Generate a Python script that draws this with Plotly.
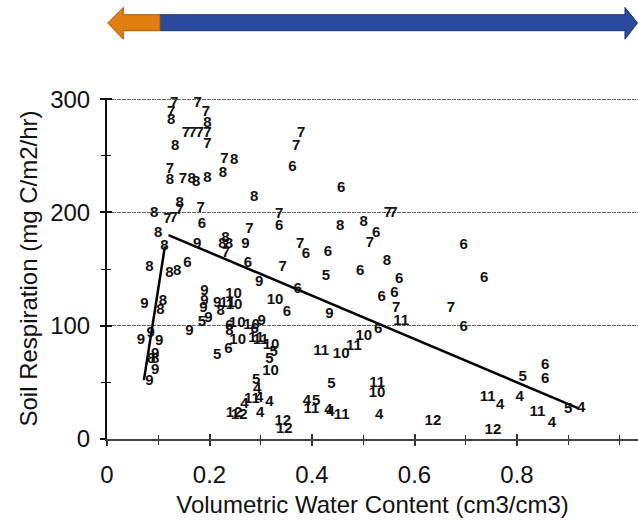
import plotly.graph_objects as go

# Month labels of each observation, with volumetric water content (x) and soil respiration (y)
labels = [
    "7", "7", "8", "7", "7",
    "7", "7", "7", "7", "8",
    "8", "7", "7", "8", "8", "6", "7", "7",
    "7", "8", "7", "8", "8", "8", "8",
    "8", "8", "7", "7", "7",
    "7", "6", "7", "6", "8", "7", "9", "9",
    "8", "8", "8", "7", "8", "6", "7",
    "8", "8", "8", "6",
    "6", "7", "7", "8", "8", "6", "7", "7", "6", "6", "6", "8", "6",
    "5", "6", "6", "6", "6", "7", "7", "9", "6", "6", "11", "6", "10",
    "11", "10", "11", "5", "11", "10", "4", "5", "11", "4", "4", "11", "4", "12",
    "6", "6", "5", "4", "11", "4", "11", "4", "5", "4", "12",
    "9", "8", "8", "9", "9", "9", "8", "8", "9", "9", "9",
    "9", "5", "9", "9", "9", "9", "9", "8", "11", "10", "10",
    "10", "6", "9", "10", "10", "6", "9", "6", "8", "6", "10", "5",
    "11", "11", "10", "5", "5", "10", "5",
    "4", "4", "4", "4", "4", "11", "12", "12", "12", "12",
]
vwc = [
    0.131, 0.125, 0.125, 0.177, 0.193,
    0.154, 0.167, 0.181, 0.196, 0.196,
    0.133, 0.196, 0.229, 0.248, 0.226, 0.362, 0.369, 0.379,
    0.123, 0.123, 0.148, 0.165, 0.174, 0.196, 0.287,
    0.092, 0.142, 0.142, 0.118, 0.130,
    0.183, 0.185, 0.336, 0.336, 0.100, 0.278, 0.270, 0.176,
    0.231, 0.225, 0.238, 0.232, 0.112, 0.275, 0.343,
    0.083, 0.122, 0.137, 0.157,
    0.457, 0.548, 0.559, 0.455, 0.501, 0.525, 0.513, 0.377, 0.388, 0.431, 0.696, 0.546, 0.494,
    0.427, 0.570, 0.736, 0.536, 0.561, 0.564, 0.671, 0.434, 0.372, 0.529, 0.574, 0.696, 0.501,
    0.482, 0.457, 0.418, 0.438, 0.527, 0.527, 0.390, 0.408, 0.399, 0.432, 0.436, 0.458, 0.531, 0.636,
    0.855, 0.855, 0.811, 0.805, 0.743, 0.767, 0.840, 0.868, 0.900, 0.925, 0.753,
    0.073, 0.109, 0.104, 0.085, 0.066, 0.102, 0.086, 0.094, 0.094, 0.094, 0.083,
    0.161, 0.185, 0.198, 0.190, 0.190, 0.188, 0.215, 0.222, 0.235, 0.247, 0.248,
    0.328, 0.351, 0.297, 0.254, 0.282, 0.288, 0.302, 0.239, 0.239, 0.237, 0.255, 0.215,
    0.291, 0.300, 0.320, 0.325, 0.317, 0.319, 0.291,
    0.293, 0.297, 0.268, 0.317, 0.299, 0.283, 0.248, 0.258, 0.343, 0.346,
]
resp = [
    296, 288, 281, 296, 288,
    270, 270, 270, 270, 279,
    258, 260, 247, 246, 235, 240, 258, 270,
    238, 228, 229.5, 229, 227, 230, 213.6,
    199, 207.7, 202, 194, 195,
    204, 190, 198, 188, 182, 185, 171.5, 171.5,
    177, 172, 172, 164, 170, 155, 152,
    152, 146.5, 148.5, 155,
    221, 199, 199.5, 188, 191, 182, 173, 172, 163.5, 165, 170.6, 157, 148,
    144, 141, 142, 125, 129, 115.6, 115.6, 110, 132, 97, 104, 99, 91,
    82, 74.4, 77.3, 48, 49.4, 40.6, 33, 33, 26.5, 25, 24, 21.4, 21.4, 15.5,
    64.7, 52.4, 54.7, 37, 37, 29.4, 23.5, 14, 26, 27.4, 7.6,
    118.6, 121.4, 114, 93.5, 87, 86, 70, 70, 74.4, 60.5, 50.8,
    95, 103, 107, 130, 121.4, 115.6, 119.4, 112.6, 120, 127.4, 118.5,
    122.3, 111.7, 138, 102.4, 100, 97, 104, 99.4, 95, 79, 87, 73.5,
    89, 87.6, 83, 77, 70, 59.7, 52.3,
    43.5, 36, 30.3, 32.3, 23, 35, 23, 21.4, 15.5, 8.2,
]

# Regression lines (endpoints)
dry_line_x = [0.072, 0.113]
dry_line_y = [52, 170]
wet_line_x = [0.12, 0.92]
wet_line_y = [180, 27]

x_ticks = [0, 0.2, 0.4, 0.6, 0.8]
x_tick_text = ["0", "0.2", "0.4", "0.6", "0.8"]
y_ticks = [0, 100, 200, 300]
y_tick_text = ["0", "100", "200", "300"]

FONT = "Liberation Sans, Arial, sans-serif"

fig = go.Figure()
fig.add_trace(go.Scatter(x=dry_line_x, y=dry_line_y, mode="lines",
                         line=dict(color="black", width=2.5), hoverinfo="skip", showlegend=False))
fig.add_trace(go.Scatter(x=wet_line_x, y=wet_line_y, mode="lines",
                         line=dict(color="black", width=2.5), hoverinfo="skip", showlegend=False))
fig.add_trace(go.Scatter(x=vwc, y=resp, mode="text", text=labels,
                         textposition="middle center", cliponaxis=False,
                         textfont=dict(family=FONT, size=15, color="#111111", weight="bold"),
                         showlegend=False))
# dummy trace to carry the overlay axes (crossing tick marks)
fig.add_trace(go.Scatter(x=[None], y=[None], xaxis="x2", yaxis="y2", showlegend=False,
                         hoverinfo="skip"))

x_max = 531 / 512.5

fig.update_layout(
    width=638, height=520,
    margin=dict(l=107, r=0, t=98, b=81),
    paper_bgcolor="white", plot_bgcolor="white",
    font=dict(family=FONT, color="#111111"),
    xaxis=dict(
        range=[0, x_max], tickvals=x_ticks, ticktext=x_tick_text, automargin=False,
        tickfont=dict(size=24), ticks="outside", ticklen=5, tickwidth=1.5, tickcolor="#333",
        minor=dict(dtick=0.1, tick0=0, ticks="outside", ticklen=4, tickcolor="#333", tickwidth=1),
        showline=True, linecolor="#444", linewidth=1.5, showgrid=False, zeroline=False,
        ticklabelstandoff=8,
        title=dict(text="Volumetric Water Content (cm3/cm3)", font=dict(size=24), standoff=10),
    ),
    yaxis=dict(
        range=[0, 301], tickvals=y_ticks, ticktext=y_tick_text, automargin=False,
        tickfont=dict(size=24), ticks="outside", ticklen=5, tickwidth=1.5, tickcolor="#111",
        minor=dict(dtick=50, tick0=0, ticks="outside", ticklen=4, tickcolor="#111", tickwidth=1),
        showline=True, linecolor="#111", linewidth=2, zeroline=False,
        showgrid=True, gridcolor="#666", gridwidth=1, griddash="4px,1px",
        ticklabelstandoff=5,
        title=dict(text="Soil Respiration (mg C/m2/hr)", font=dict(size=24), standoff=6),
    ),
    xaxis2=dict(overlaying="x", matches="x", anchor="y2", side="bottom", showticklabels=False,
                tickvals=x_ticks, ticks="inside", ticklen=5, tickwidth=1.5, tickcolor="#333",
                minor=dict(dtick=0.1, tick0=0, ticks="inside", ticklen=4, tickcolor="#333", tickwidth=1),
                showgrid=False, zeroline=False, showline=False, automargin=False),
    yaxis2=dict(overlaying="y", matches="y", anchor="x2", side="left", showticklabels=False,
                tickvals=y_ticks, ticks="inside", ticklen=5, tickwidth=1.5, tickcolor="#111",
                minor=dict(dtick=50, tick0=0, ticks="inside", ticklen=4, tickcolor="#111", tickwidth=1),
                showgrid=False, zeroline=False, showline=False, automargin=False),
)

# Top double-headed arrow (decoration), in paper coordinates
def py(p):  # pixel y -> paper y
    return (439.3 - p) / 341.0

def px(p):  # pixel x -> paper x
    return (p - 107) / 531.0

orange_path = (f"M {px(107.7)} {py(23.3)} L {px(123.3)} {py(7.7)} L {px(123.3)} {py(15)} "
               f"L {px(160)} {py(15)} L {px(160)} {py(31)} L {px(123.3)} {py(31)} "
               f"L {px(123.3)} {py(39.5)} Z")
blue_path = (f"M {px(160)} {py(15)} L {px(625)} {py(15)} L {px(625)} {py(7.7)} "
             f"L {px(637.5)} {py(23.3)} L {px(625)} {py(39.5)} L {px(625)} {py(31)} "
             f"L {px(160)} {py(31)} Z")
fig.add_shape(type="path", path=blue_path, xref="paper", yref="paper",
              fillcolor="#2A4B9B", line=dict(color="#1B3172", width=1))
fig.add_shape(type="path", path=orange_path, xref="paper", yref="paper",
              fillcolor="#E27D10", line=dict(color="#A85A05", width=1))

fig.write_html("out.html", config={"displayModeBar": False},
               post_script="document.body.style.margin='0';")
